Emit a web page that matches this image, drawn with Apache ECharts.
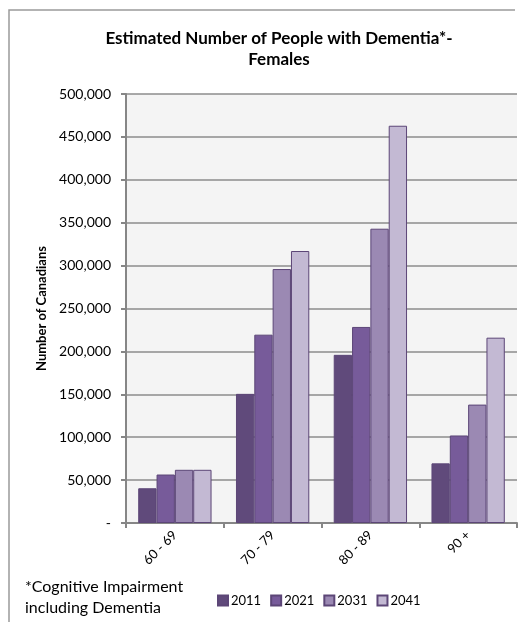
<!DOCTYPE html>
<html>
<head>
<meta charset="utf-8">
<script src="https://cdn.jsdelivr.net/npm/echarts@6/dist/echarts.min.js"></script>
<style>
  html, body { margin: 0; padding: 0; background: #fff; }
  #chart { width: 523px; height: 622px; }
</style>
</head>
<body>
<div id="chart"></div>
<script>
// age groups on the x axis
const ageGroups = ['60 - 69', '70 - 79', '80 - 89', '90 +'];
const years = ['2011', '2021', '2031', '2041'];

// estimated values
const v2011 = [40500, 150500, 196000, 69500];
const v2021 = [56500, 219500, 228500, 102000];
const v2031 = [62000, 296000, 343000, 138000];
const v2041 = [62000, 317000, 463000, 216000];

const yearColors = ['#604a7b', '#775b9a', '#9b89b3', '#c3b9d3'];
const font = 'Lato, "Open Sans", sans-serif';

const chart = echarts.init(document.getElementById('chart'));

const seriesData = [v2011, v2021, v2031, v2041];

const option = {
  animation: false,
  textStyle: { fontFamily: font },
  title: {
    text: 'Estimated Number of People with Dementia*-\nFemales',
    left: 274,
    top: 23,
    textAlign: 'center',
    textStyle: { fontFamily: font, fontSize: 17, fontWeight: 'bold', color: '#000', lineHeight: 21 }
  },
  legend: {
    data: years,
    left: 212,
    top: 589,
    itemWidth: 10,
    itemHeight: 10,
    itemGap: 9,
    icon: 'rect',
    textStyle: { fontFamily: font, fontSize: 13, color: '#000', padding: [0, 0, 0, -2] }
  },
  grid: {
    left: 126,
    right: 6,
    top: 94,
    bottom: 99,
    show: true,
    backgroundColor: '#f4f4f4',
    borderWidth: 0
  },
  xAxis: {
    type: 'category',
    data: ageGroups,
    axisLine: { lineStyle: { color: '#868686', width: 2 } },
    axisTick: { show: true, length: 5, lineStyle: { color: '#868686', width: 2 } },
    axisLabel: { rotate: 45, margin: 10, fontSize: 13, color: '#000', fontFamily: font }
  },
  yAxis: {
    type: 'value',
    min: 0,
    max: 500000,
    interval: 50000,
    name: 'Number of Canadians',
    nameLocation: 'middle',
    nameRotate: 90,
    nameGap: 78,
    nameTextStyle: { fontFamily: font, fontSize: 13, fontWeight: 'bold', color: '#000' },
    axisLine: { show: true, lineStyle: { color: '#868686', width: 2 } },
    axisTick: { show: true, length: 5, lineStyle: { color: '#868686', width: 2 } },
    axisLabel: {
      fontSize: 14,
      color: '#000',
      margin: 15,
      fontFamily: font,
      formatter: function (v) { return v === 0 ? '-' : v.toLocaleString('en-US'); }
    },
    splitLine: { lineStyle: { color: '#8c8c8c', width: 1.5 } }
  },
  series: years.map((y, i) => ({
    name: y,
    type: 'bar',
    data: seriesData[i],
    barGap: '0%',
    barCategoryGap: '25%',
    itemStyle: { color: yearColors[i], borderColor: '#5c4677', borderWidth: 1 }
  })),
  graphic: [
    {
      type: 'polyline',
      shape: { points: [[9, 622], [9, 10], [515, 10]] },
      style: { stroke: '#9a9a9a', lineWidth: 1.5, fill: null }
    },
    {
      type: 'text',
      left: 25,
      top: 576,
      style: {
        text: '*Cognitive Impairment\nincluding Dementia',
        font: '16px ' + font,
        lineHeight: 21,
        fill: '#000'
      }
    }
  ]
};

chart.setOption(option);
</script>
</body>
</html>
